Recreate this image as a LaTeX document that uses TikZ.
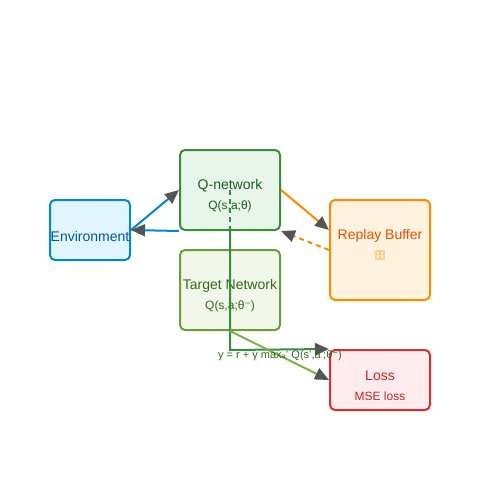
\documentclass[tikz,border=0pt]{standalone}
\usepackage{fontspec}
\setmainfont{Liberation Sans}
\newfontfamily\dejavu{DejaVu Sans}
\newfontfamily\emojifont{Noto Emoji}
\usetikzlibrary{arrows.meta}
\definecolor{envfill}{HTML}{E1F5FE}
\definecolor{envline}{HTML}{0288D1}
\definecolor{envtext}{HTML}{01579B}
\definecolor{qfill}{HTML}{E8F5E9}
\definecolor{qline}{HTML}{388E3C}
\definecolor{qtext}{HTML}{1B5E20}
\definecolor{tfill}{HTML}{F1F8E9}
\definecolor{tline}{HTML}{689F38}
\definecolor{ttext}{HTML}{33691E}
\definecolor{tarrow}{HTML}{7CB342}
\definecolor{rfill}{HTML}{FFF3E0}
\definecolor{rline}{HTML}{FB8C00}
\definecolor{rtext}{HTML}{E65100}
\definecolor{lfill}{HTML}{FFEBEE}
\definecolor{lline}{HTML}{D32F2F}
\definecolor{ltext}{HTML}{C62828}
\definecolor{tipgray}{HTML}{555555}
\begin{document}
\begin{tikzpicture}[x=1pt, y=-1pt,
		box/.style={shape=rectangle, rounded corners=5pt, line width=2pt, inner sep=0pt},
		title/.style={font=\fontsize{14}{16}\selectfont, inner sep=0pt},
		sub/.style={font=\fontsize{12}{14}\selectfont, inner sep=0pt},
		dashline/.style={dash pattern=on 5pt off 4pt},
		link/.style={line width=2pt, -{Triangle[length=14pt, width=12pt, color=tipgray]}}]
	\useasboundingbox (0,0) rectangle (500,500);

	\node[box, draw=envline, fill=envfill, minimum width=80pt, minimum height=60pt] (env) at (90,230) {};
	\node[box, draw=qline, fill=qfill, minimum width=100pt, minimum height=80pt] (q_net) at (230,190) {};
	\node[box, draw=tline, fill=tfill, minimum width=100pt, minimum height=80pt] (t_net) at (230,290) {};
	\node[box, draw=rline, fill=rfill, minimum width=100pt, minimum height=100pt] (r_buf) at (380,250) {};
	\node[box, draw=lline, fill=lfill, minimum width=100pt, minimum height=60pt] (loss) at (380,380) {};

	\node[title, text=envtext] (env_t) at (90,236) {Environment};
	\node[title, text=qtext] (q_t) at (230,186) {Q-network};
	\node[sub, text=qtext] (q_s) at (230,206) {Q(s,a;θ)};
	\node[title, text=ttext] (t_t) at (230,286) {Target Network};
	\node[sub, text=ttext] (t_s) at (230,306) {Q(s,a;θ{\dejavu ⁻})};
	\node[title, text=rtext] (r_t) at (380,236) {Replay Buffer};
	\node[font=\fontsize{9}{10}\selectfont, inner sep=0pt, text=rline] (r_s) at (380,255) {\emojifont 🗄};
	\node[title, text=ltext] (l_t) at (380,376) {Loss};
	\node[sub, text=ltext] (l_s) at (380,396) {MSE loss};

	\draw[link, envline] (env.east) -- (q_net.west);
	\draw[link, envline] (q_net.south west) -- (env.east);
	\draw[link, rline] (q_net.east) -- ([yshift=20pt]r_buf.west);
	\draw[link, rline, dashline] (r_buf.west) -- (q_net.south east);
	\draw[line width=2pt, qline, dashline] (q_net.center) -- (t_net.north);
	\draw[link, qline] (q_net.south) -- (t_net.south) -- (230,350) -- (loss.north west);
	\draw[link, tarrow] (t_net.south) -- (loss.west);

	\node[font=\fontsize{11}{13}\selectfont, inner sep=0pt, text=ttext] (y_lbl) at (280,356) {y = r + γ max{\dejavu ₐ}' Q(s',a';θ{\dejavu ⁻})};
\end{tikzpicture}
\end{document}
